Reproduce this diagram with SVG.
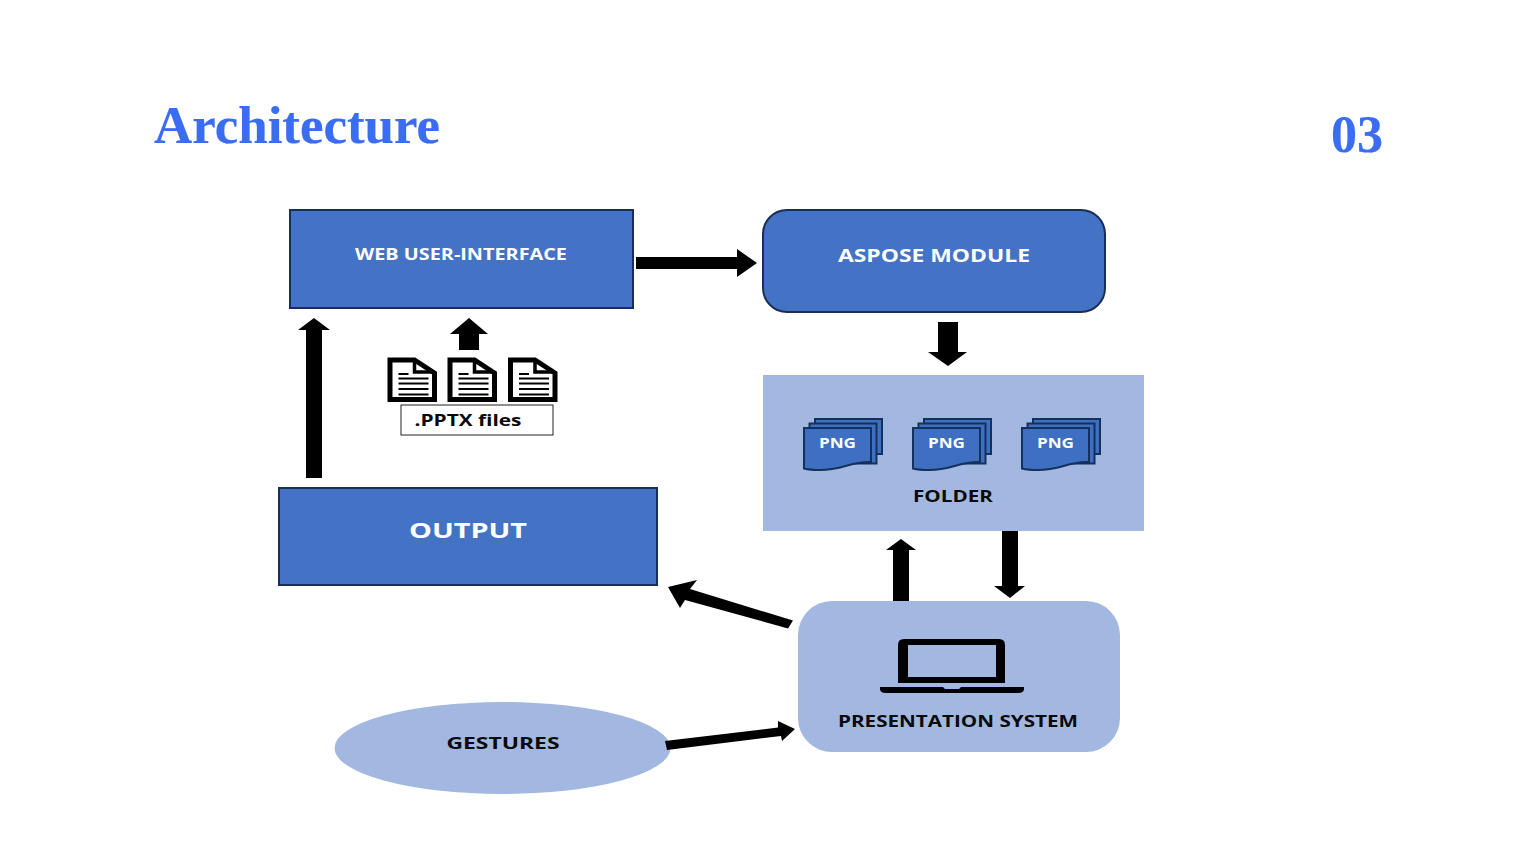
<svg xmlns="http://www.w3.org/2000/svg" width="1536" height="864" viewBox="0 0 1536 864">
<style>
.box{fill:#4472c4;stroke:#1a2f55;stroke-width:2}
.light{fill:#a2b8e0}
.h{font-family:"Liberation Serif",serif;font-weight:700;fill:#3a6cf4;stroke:#3a6cf4;stroke-width:.2}
.t{font-family:"Open Sans","Liberation Sans",sans-serif;font-weight:700;text-anchor:middle}
.w{fill:#fff}
.k{fill:#0a0a0a}
.arrow{fill:#000}
.sheet{fill:#3f6fc0;stroke:#14305c;stroke-width:2}
.doc{fill:#fff;stroke:#000;stroke-width:5;stroke-linejoin:miter}
.ln{stroke:#000;stroke-width:2}
</style>
<defs>
<g id="docicon">
<path class="doc" d="M2.500 3H27L47 16V42.500H2.500Z"/>
<path d="M27 3V15H47" fill="none" stroke="#000" stroke-width="3.500"/>
<path class="ln" d="M11 17H21M11 21.500H41M11 26.500H41M11 32H41M11 37.500H41"/>
</g>
<g id="png">
<rect class="sheet" x="11" y="1" width="67" height="35"/>
<rect class="sheet" x="5.500" y="5.500" width="67" height="40"/>
<path class="sheet" d="M0 10H67V44C48 43 38 52 16 52C8 52 4 51.500 0 50.500Z"/>
<text class="t w" x="33.500" y="30" font-size="14" textLength="37" lengthAdjust="spacingAndGlyphs">PNG</text>
</g>
</defs>

<text class="h" x="154" y="143" font-size="53" textLength="286" lengthAdjust="spacingAndGlyphs">Architecture</text>
<text class="h" x="1331" y="152" font-size="53" textLength="52" lengthAdjust="spacingAndGlyphs">03</text>

<g id="web-ui">
<rect class="box" x="290" y="210" width="343" height="98"/>
<text class="t w" x="461" y="260" font-size="15.500" textLength="212" lengthAdjust="spacingAndGlyphs">WEB USER-INTERFACE</text>
</g>
<g id="aspose">
<rect class="box" x="763" y="210" width="342" height="102" rx="24"/>
<text class="t w" x="934" y="262" font-size="17.500" textLength="192" lengthAdjust="spacingAndGlyphs">ASPOSE MODULE</text>
</g>
<g id="folder">
<rect class="light" x="763" y="375" width="381" height="156"/>
<use href="#png" x="804" y="418"/>
<use href="#png" x="913" y="418"/>
<use href="#png" x="1022" y="418"/>
<text class="t k" x="953" y="502" font-size="16" textLength="80" lengthAdjust="spacingAndGlyphs">FOLDER</text>
</g>
<g id="pptx-files">
<use href="#docicon" x="387.500" y="357"/>
<use href="#docicon" x="447.500" y="357"/>
<use href="#docicon" x="508" y="357"/>
<rect x="401" y="405" width="152" height="30" fill="#fff" stroke="#222" stroke-width="1"/>
<text class="t k" x="468" y="426" font-size="16.500" textLength="107" lengthAdjust="spacingAndGlyphs">.PPTX files</text>
</g>
<g id="output">
<rect class="box" x="279" y="488" width="378" height="97"/>
<text class="t w" x="468" y="538" font-size="22" textLength="118" lengthAdjust="spacingAndGlyphs">OUTPUT</text>
</g>
<g id="presentation">
<rect class="light" x="798" y="601" width="322" height="151" rx="34"/>
<path d="M898 645Q898 639 904 639H999Q1005 639 1005 645V683H898ZM908 645V677H996V645Z" fill="#000" fill-rule="evenodd"/>
<path d="M880 687H943L945 689H959L961 687H1024V689Q1024 693 1018 693H886Q880 693 880 689Z" fill="#000"/>
<text class="t k" x="958" y="727" font-size="16.500" textLength="240" lengthAdjust="spacingAndGlyphs">PRESENTATION SYSTEM</text>
</g>
<g id="gestures">
<ellipse class="light" cx="502.500" cy="748" rx="168" ry="46"/>
<text class="t k" x="503" y="749" font-size="16.500" textLength="113" lengthAdjust="spacingAndGlyphs">GESTURES</text>
</g>

<g id="connectors" class="arrow">
<polygon points="636,257 737,257 737,249 757,263 737,277 737,269 636,269"/>
<polygon points="938,322 958,322 958,352 967,352 948,366 928,352 938,352"/>
<polygon points="306,478 322,478 322,330 330,330 314,318 298,330 306,330"/>
<polygon points="459,350 479,350 479,334 488,334 469,318 450,334 459,334"/>
<polygon points="893,601 909,601 909,550 916,550 901,539 886,550 893,550"/>
<polygon points="1002,531 1018,531 1018,586 1025,586 1010,598 994,586 1002,586"/>
<polygon points="793,620.500 788,628.500 685,600 680,608 668,587 697,580 690,589"/>
<polygon points="665,741 667,750 781,736 782,741 795,729 778,721 778,727.500"/>
</g>
</svg>
